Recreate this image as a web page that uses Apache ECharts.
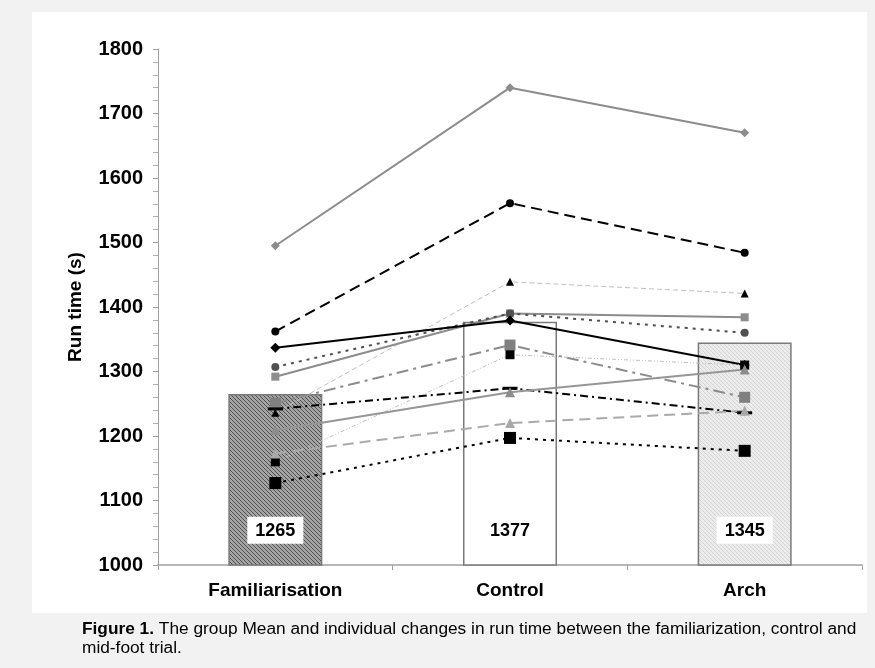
<!DOCTYPE html>
<html>
<head>
<meta charset="utf-8">
<script src="https://cdn.jsdelivr.net/npm/echarts@6/dist/echarts.min.js"></script>
<style>
html,body{margin:0;padding:0;background:#f2f2f2;}
#chart{width:875px;height:668px;}
</style>
</head>
<body>
<div id="chart"></div>
<script>
// ---- data ----
var categories = ['Familiarisation', 'Control', 'Arch'];
var meanValues = [1265, 1377, 1345];
var yTicks = [1000, 1100, 1200, 1300, 1400, 1500, 1600, 1700, 1800];
var s01 = [1495, 1740, 1670];
var s02 = [1362, 1561, 1484];
var s03 = [1236, 1439, 1421];
var s04 = [1292, 1390, 1384];
var s05 = [1307, 1390, 1360];
var s06 = [1337, 1379, 1310];
var s07 = [1251, 1341, 1260];
var s08 = [1160, 1326, 1310];
var s09 = [1242, 1274, 1236];
var s10 = [1209, 1268, 1303];
var s11 = [1173, 1220, 1239];
var s12 = [1127, 1197, 1177];
var captionBold = 'Figure 1.';
var captionText = ' The group Mean and individual changes in run time between the familiarization, control and';
var captionText2 = 'mid-foot trial.';

function hatch(bg, fg, lw) {
  var c = document.createElement('canvas');
  c.width = 4; c.height = 4;
  var g = c.getContext('2d');
  g.fillStyle = bg; g.fillRect(0, 0, 4, 4);
  g.strokeStyle = fg; g.lineWidth = lw;
  g.beginPath();
  g.moveTo(-1, -1); g.lineTo(5, 5);
  g.moveTo(-1, 3); g.lineTo(1, 5);
  g.moveTo(3, -1); g.lineTo(5, 1);
  g.stroke();
  return c;
}
var famFill = {image: hatch('#a4a4a4', '#505050', 1), repeat: 'repeat'};
var archFill = {image: hatch('#ececec', '#d4d4d4', 1), repeat: 'repeat'};
var barFills = [famFill, '#ffffff', archFill];

function lineSeries(data, lineColor, width, type, symbol, symColor, symSize) {
  return {
    type: 'line', data: data, z: 5,
    symbol: symbol, symbolSize: symSize,
    showAllSymbol: true,
    lineStyle: {color: lineColor, width: width, type: type},
    itemStyle: {color: symColor, borderWidth: 0},
    emphasis: {disabled: true},
    animation: false
  };
}

var FONT = 'Liberation Sans, Arial';
var chart = echarts.init(document.getElementById('chart'), null, {renderer: 'canvas'});
var option = {
  backgroundColor: '#f2f2f2',
  animation: false,
  graphic: [
    {type: 'rect', shape: {x: 32, y: 12, width: 835, height: 601}, style: {fill: '#ffffff'}, z: -10, silent: true},
    {type: 'text', left: 82, top: 621, z: 10,
     style: {
       text: '{b|' + captionBold + '}{n|' + captionText + '}\n{n|' + captionText2 + '}',
       rich: {
         b: {fontFamily: FONT, fontWeight: 'bold', fontSize: 17.3, fill: '#000', lineHeight: 19},
         n: {fontFamily: FONT, fontSize: 17.3, fill: '#000', lineHeight: 19}
       }
     }}
  ],
  grid: {left: 158, right: 13, top: 49, bottom: 103, containLabel: false},
  xAxis: {
    type: 'category', data: categories, boundaryGap: true,
    axisLine: {lineStyle: {color: '#a0a0a0', width: 1.5}},
    axisTick: {show: true, length: 5, lineStyle: {color: '#a0a0a0'}},
    axisLabel: {color: '#000', fontFamily: FONT, fontWeight: 'bold', fontSize: 19, margin: 16}
  },
  yAxis: {
    type: 'value', min: yTicks[0], max: yTicks[yTicks.length - 1], interval: 100,
    name: 'Run time (s)', nameLocation: 'middle', nameRotate: 90, nameGap: 73,
    nameTextStyle: {color: '#000', fontFamily: FONT, fontWeight: 'bold', fontSize: 19},
    axisLine: {show: true, lineStyle: {color: '#a0a0a0', width: 1}},
    axisTick: {show: true, length: 5, lineStyle: {color: '#a0a0a0'}},
    minorTick: {show: true, splitNumber: 5, length: 5, lineStyle: {color: '#b0b0b0'}},
    splitLine: {show: false},
    axisLabel: {color: '#000', fontFamily: FONT, fontWeight: 'bold', fontSize: 20, margin: 15,
      formatter: function (v) { return String(v); }}
  },
  series: [
    {
      type: 'bar', barWidth: 94, z: 2,
      data: meanValues.map(function (v, i) {
        return {value: v, itemStyle: {color: barFills[i], borderColor: '#7a7a7a', borderWidth: 1.5}};
      }),
      label: {
        show: true, position: 'insideBottom', distance: 22,
        color: '#000', fontFamily: FONT, fontWeight: 'bold', fontSize: 18,
        backgroundColor: '#ffffff', padding: [5, 8, 4, 8]
      },
      emphasis: {disabled: true}
    },
    lineSeries(s01, '#8c8c8c', 2, 'solid', 'diamond', '#8c8c8c', 9),
    lineSeries(s02, '#000000', 2, [11, 6], 'circle', '#000000', 8),
    lineSeries(s03, '#c0c0c0', 1, [5, 3], 'triangle', '#000000', 8),
    lineSeries(s04, '#8c8c8c', 2, 'solid', 'rect', '#8c8c8c', 8),
    lineSeries(s05, '#505050', 2, [3, 5], 'circle', '#505050', 8),
    lineSeries(s06, '#000000', 2, 'solid', 'diamond', '#000000', 10),
    lineSeries(s07, '#8c8c8c', 2, [12, 5, 3, 5], 'rect', '#808080', 11),
    lineSeries(s08, '#c0c0c0', 1, [4, 2, 1, 2, 1, 2], 'rect', '#000000', 9),
    lineSeries(s09, '#000000', 2, [8, 4, 2, 4], 'rect', '#000000', [15, 3]),
    lineSeries(s10, '#969696', 2, 'solid', 'triangle', '#8c8c8c', 10),
    lineSeries(s11, '#aaaaaa', 2, [11, 6], 'triangle', '#a8a8a8', 10),
    lineSeries(s12, '#000000', 2, [3, 5], 'rect', '#000000', 12)
  ]
};
chart.setOption(option);
</script>
</body>
</html>
